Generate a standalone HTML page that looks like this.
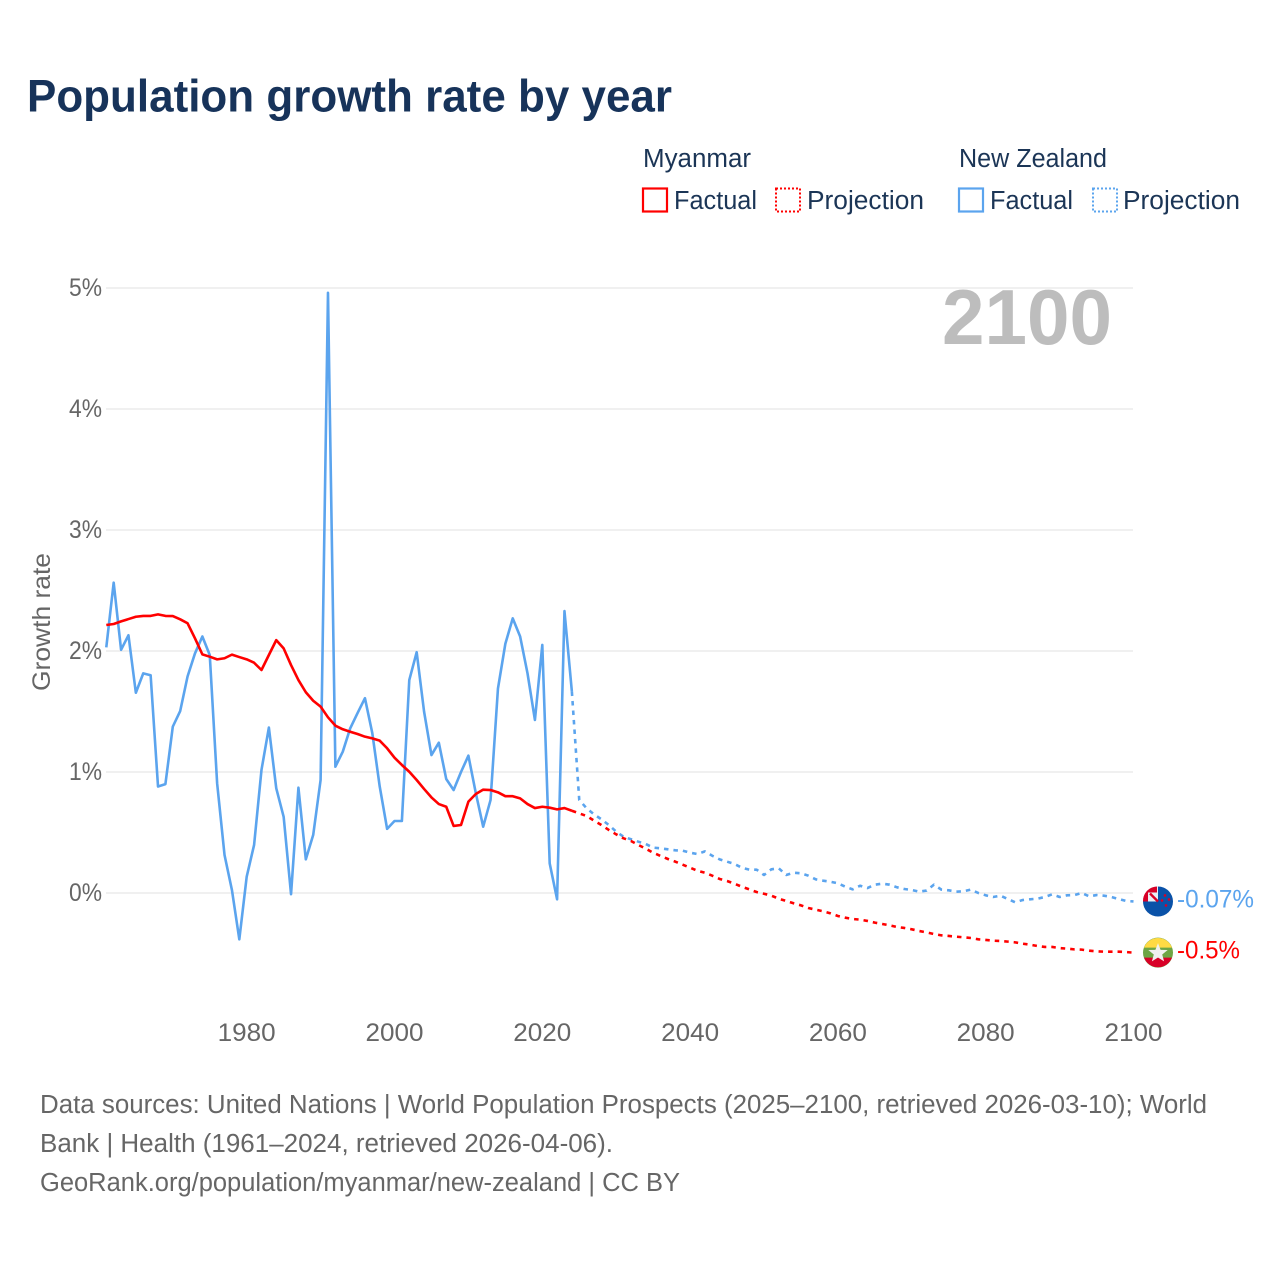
<!DOCTYPE html>
<html lang="en">
<head>
<meta charset="utf-8">
<title>Population growth rate by year</title>
<style>
html,body{margin:0;padding:0;background:#fff;}
#stage{position:relative;width:1280px;height:1280px;overflow:hidden;background:#fff;}
svg{display:block;position:absolute;left:0;top:0;}
text{font-family:"Liberation Sans",sans-serif;}
</style>
</head>
<body>
<div id="stage">
<svg id="chart" width="1280" height="1280" viewBox="0 0 1280 1280" xmlns="http://www.w3.org/2000/svg">
  <text x="27" y="111.500" font-size="45" font-weight="700" fill="#17335a" textLength="645" lengthAdjust="spacingAndGlyphs">Population growth rate by year</text>

  <g>
    <text x="643" y="167" font-size="25.500" fill="#1b3556" textLength="108" lengthAdjust="spacingAndGlyphs">Myanmar</text>
    <text x="959" y="167" font-size="25.500" fill="#1b3556" textLength="148" lengthAdjust="spacingAndGlyphs">New Zealand</text>

    <g>
      <rect x="643" y="188.500" width="24" height="23" fill="none" stroke="#ff0000" stroke-width="2.200"/>
      <text x="674" y="209" font-size="25.500" fill="#1b3556" textLength="83" lengthAdjust="spacingAndGlyphs">Factual</text>
    </g>
    <g>
      <rect x="776" y="188.500" width="24" height="23" fill="none" stroke="#ff0000" stroke-width="2" stroke-dasharray="2 2"/>
      <text x="807" y="209" font-size="25.500" fill="#1b3556" textLength="117" lengthAdjust="spacingAndGlyphs">Projection</text>
    </g>
    <g>
      <rect x="959" y="188.500" width="24" height="23" fill="none" stroke="#5ba4ee" stroke-width="2.200"/>
      <text x="990" y="209" font-size="25.500" fill="#1b3556" textLength="83" lengthAdjust="spacingAndGlyphs">Factual</text>
    </g>
    <g>
      <rect x="1093" y="188.500" width="24" height="23" fill="none" stroke="#5ba4ee" stroke-width="2" stroke-dasharray="2 2"/>
      <text x="1123" y="209" font-size="25.500" fill="#1b3556" textLength="117" lengthAdjust="spacingAndGlyphs">Projection</text>
    </g>
  </g>

  <g id="grid"></g>
  <g id="yticks"></g>
  <g id="xticks"></g>

  <text transform="translate(50 622) rotate(-90)" text-anchor="middle" font-size="25" fill="#666666" textLength="138" lengthAdjust="spacingAndGlyphs">Growth rate</text>

  <text x="942" y="344" font-size="78" font-weight="700" fill="#bdbdbd" textLength="170" lengthAdjust="spacingAndGlyphs">2100</text>

  <g id="series"></g>
  <g id="ends"></g>

  <g>
    <text x="40" y="1113" font-size="25.500" fill="#666666" textLength="1167" lengthAdjust="spacingAndGlyphs">Data sources: United Nations | World Population Prospects (2025–2100, retrieved 2026-03-10); World</text>
    <text x="40" y="1152" font-size="25.500" fill="#666666" textLength="573" lengthAdjust="spacingAndGlyphs">Bank | Health (1961–2024, retrieved 2026-04-06).</text>
    <text x="40" y="1191" font-size="25.500" fill="#666666" textLength="640" lengthAdjust="spacingAndGlyphs">GeoRank.org/population/myanmar/new-zealand | CC BY</text>
  </g>
</svg>
</div>
<script>
var yTickValues = [0, 1, 2, 3, 4, 5];
var yTickLabels = ["0%", "1%", "2%", "3%", "4%", "5%"];
var xTickValues = [1980, 2000, 2020, 2040, 2060, 2080, 2100];
var xTickLabels = ["1980", "2000", "2020", "2040", "2060", "2080", "2100"];
var factualStartYear = 1961;
var projectionStartYear = 2024;
var newZealandEndLabel = "-0.07%";
var myanmarEndLabel = "-0.5%";

var newZealandFactual = [
  2.03, 2.565, 2.01, 2.13, 1.655, 1.815, 1.80, 0.88, 0.90, 1.375,
  1.504, 1.79, 1.98, 2.12, 1.967, 0.906, 0.314, 0.025, -0.383, 0.135,
  0.397, 1.017, 1.367, 0.865, 0.63, -0.01, 0.87, 0.278, 0.48, 0.934,
  4.96, 1.044, 1.168, 1.36, 1.487, 1.61, 1.32, 0.88, 0.53, 0.595,
  0.595, 1.76, 1.99, 1.50, 1.14, 1.242, 0.942, 0.851, 1.0, 1.135,
  0.826, 0.548, 0.769, 1.69, 2.06, 2.27, 2.12, 1.815, 1.43, 2.05,
  0.245, -0.052, 2.33, 1.665
];
var newZealandProjection = [
  1.665, 0.769, 0.70, 0.65, 0.609, 0.562, 0.507, 0.465, 0.444, 0.424,
  0.405, 0.375, 0.369, 0.361, 0.353, 0.35, 0.333, 0.322, 0.344, 0.308,
  0.278, 0.259, 0.24, 0.209, 0.193, 0.193, 0.149, 0.196, 0.204, 0.149,
  0.168, 0.163, 0.143, 0.113, 0.102, 0.093, 0.08, 0.052, 0.03, 0.06,
  0.041, 0.069, 0.077, 0.069, 0.047, 0.033, 0.025, 0.011, 0.02, 0.069,
  0.028, 0.022, 0.011, 0.014, 0.028, 0, -0.019, -0.033, -0.022, -0.05,
  -0.077, -0.058, -0.052, -0.047, -0.033, -0.011, -0.033, -0.019, -0.017, 0,
  -0.028, -0.017, -0.022, -0.033, -0.05, -0.066, -0.07
];
var myanmarFactual = [
  2.215, 2.223, 2.245, 2.264, 2.283, 2.29, 2.29, 2.303, 2.29, 2.289,
  2.262, 2.229, 2.105, 1.972, 1.953, 1.931, 1.94, 1.97, 1.95, 1.931,
  1.903, 1.843, 1.967, 2.09, 2.022, 1.884, 1.76, 1.659, 1.589, 1.54,
  1.452, 1.383, 1.353, 1.333, 1.314, 1.292, 1.278, 1.259, 1.196, 1.118,
  1.058, 1.002, 0.934, 0.86, 0.79, 0.735, 0.713, 0.554, 0.562, 0.755,
  0.818, 0.854, 0.851, 0.832, 0.80, 0.80, 0.782, 0.735, 0.702, 0.713,
  0.705, 0.691, 0.702, 0.68
];
var myanmarProjection = [
  0.68, 0.658, 0.636, 0.598, 0.562, 0.521, 0.485, 0.452, 0.43, 0.397,
  0.366, 0.333, 0.306, 0.281, 0.259, 0.234, 0.209, 0.184, 0.168, 0.143,
  0.116, 0.099, 0.077, 0.052, 0.03, 0.008, -0.006, -0.022, -0.047, -0.066,
  -0.085, -0.102, -0.124, -0.138, -0.151, -0.168, -0.19, -0.204, -0.215, -0.22,
  -0.231, -0.245, -0.256, -0.267, -0.281, -0.289, -0.30, -0.314, -0.325, -0.339,
  -0.35, -0.355, -0.361, -0.366, -0.372, -0.383, -0.388, -0.394, -0.397, -0.402,
  -0.408, -0.419, -0.427, -0.438, -0.446, -0.446, -0.455, -0.46, -0.466, -0.468,
  -0.477, -0.482, -0.485, -0.485, -0.485, -0.488, -0.493
];

var SVG_NS = "http://www.w3.org/2000/svg";
function xScale(year) { return 246.7 + (year - 1980) * 7.39; }
function yScale(value) { return 893 - value * 121; }
function make(tag, parent, attrs) {
  var el = document.createElementNS(SVG_NS, tag);
  for (var k in attrs) { el.setAttribute(k, attrs[k]); }
  parent.appendChild(el);
  return el;
}
function pointsFor(values, startYear) {
  return values.map(function (v, i) {
    return xScale(startYear + i).toFixed(2) + "," + yScale(v).toFixed(2);
  }).join(" ");
}

var grid = document.getElementById("grid");
var yticks = document.getElementById("yticks");
var xticks = document.getElementById("xticks");
yTickValues.forEach(function (v, i) {
  var line = make("line", grid, { x1: 106, x2: 1133, y1: yScale(v), y2: yScale(v), stroke: "#ebebeb", "stroke-width": 1.5 });
  
  
  var t = make("text", yticks, { x: 102, y: yScale(v) + 8, "text-anchor": "end", "font-size": 25, fill: "#666666", textLength: 33, lengthAdjust: "spacingAndGlyphs" });
  
  
  t.textContent = yTickLabels[i];
});
xTickValues.forEach(function (v, i) {
  var t = make("text", xticks, { x: xScale(v), y: 1041, "text-anchor": "middle", "font-size": 25, fill: "#666666", textLength: 58, lengthAdjust: "spacingAndGlyphs" });
  
  
  t.textContent = xTickLabels[i];
});

var series = document.getElementById("series");
var BLUE = "#5ba4ee";
var RED = "#ff0000";

var nzProjLine = make("polyline", series, { points: pointsFor(newZealandProjection, projectionStartYear), fill: "none", stroke: BLUE, "stroke-width": 2.6, "stroke-dasharray": "4.500 5", "stroke-linejoin": "round" });



var nzLine = make("polyline", series, { points: pointsFor(newZealandFactual, factualStartYear), fill: "none", stroke: BLUE, "stroke-width": 2.6, "stroke-linejoin": "round" });



var mmProjLine = make("polyline", series, { points: pointsFor(myanmarProjection, projectionStartYear), fill: "none", stroke: RED, "stroke-width": 2.6, "stroke-dasharray": "4.500 5", "stroke-linejoin": "round" });



var mmLine = make("polyline", series, { points: pointsFor(myanmarFactual, factualStartYear), fill: "none", stroke: RED, "stroke-width": 2.6, "stroke-linejoin": "round" });



var ends = document.getElementById("ends");
var nzY = yScale(newZealandProjection[newZealandProjection.length - 1]);
var mmY = yScale(myanmarProjection[myanmarProjection.length - 1]);

/* New Zealand flag marker */
var nzGroup = make("g", ends, { transform: "translate(1158 " + nzY.toFixed(2) + ")" });


make("circle", nzGroup, { cx: 0, cy: 0, r: 15, fill: "#0a52a8" });
make("path", nzGroup, { d: "M-15 0A15 15 0 0 1 0 -15V0Z", fill: "#e8eef5" });
make("path", nzGroup, { d: "M-13 -8A15 15 0 0 1 -1 -15V-9H-10V0H-15A15 15 0 0 1 -13 -8Z", fill: "#d80027" });
make("path", nzGroup, { d: "M-8 -8L0 0", stroke: "#d80027", "stroke-width": 2.4, fill: "none" });
make("circle", nzGroup, { cx: 7, cy: -6, r: 1.3, fill: "#d80027" });
make("circle", nzGroup, { cx: 11, cy: -2, r: 1.3, fill: "#d80027" });
make("circle", nzGroup, { cx: 4, cy: -1, r: 1.3, fill: "#d80027" });
make("circle", nzGroup, { cx: 8, cy: 4, r: 1.3, fill: "#d80027" });

/* Myanmar flag marker */
var mmGroup = make("g", ends, { transform: "translate(1158 " + mmY.toFixed(2) + ")" });


make("circle", mmGroup, { cx: 0, cy: 0, r: 15, fill: "#6da544" });
make("path", mmGroup, { d: "M-14 -5A15 15 0 0 1 14 -5Z", fill: "#ffda44" });
make("path", mmGroup, { d: "M-14 5A15 15 0 0 0 14 5Z", fill: "#d80027" });
make("polygon", mmGroup, { points: "0,-9.500 2.600,-2.800 9.700,-2.600 4.200,1.800 6.100,8.700 0,4.800 -6.100,8.700 -4.200,1.800 -9.700,-2.600 -2.600,-2.800", fill: "#f0f0f0" });

var nzLabel = make("text", ends, { x: 1177, y: nzY + 6, "font-size": 25, fill: BLUE, textLength: 77, lengthAdjust: "spacingAndGlyphs" });


nzLabel.textContent = newZealandEndLabel;

var mmLabel = make("text", ends, { x: 1177, y: mmY + 6, "font-size": 25, fill: RED, textLength: 63, lengthAdjust: "spacingAndGlyphs" });


mmLabel.textContent = myanmarEndLabel;
</script>
</body>
</html>
